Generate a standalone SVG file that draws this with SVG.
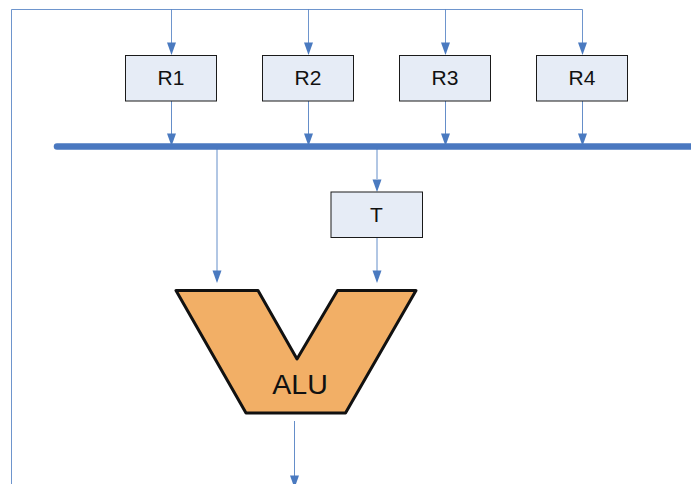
<svg xmlns="http://www.w3.org/2000/svg" width="691" height="484" viewBox="0 0 691 484">
<style>
.c{fill:none;stroke:#4a7ac0;stroke-width:1}
.h{fill:#4a7ac0}
.box{fill:#e6ecf6;stroke:#1a1a1a;stroke-width:1}
text{font-family:"Liberation Sans",Arial,sans-serif;fill:#111;text-anchor:middle}
.l{font-size:21px}
</style>
<defs>
<path id="a" d="M-4.5,-12.500H4.500L0,0Z" class="h"/>
</defs>
<rect width="691" height="484" fill="#fff"/>
<g id="connectors">
<path class="c" d="M11.500,484V9.500H582.500V44M171.500,9.500V44M308.500,9.500V44M445.500,9.500V44" stroke-opacity="0.8"/>
<path class="c" d="M171.500,101V135M308.500,101V135M445.500,101V135M582.500,101V135" stroke-opacity="0.85"/>
<path class="c" d="M217,146V272M377,146V179M377,238V272M294.500,421V476" stroke-opacity="0.85"/>
<path d="M57,146.500H691" fill="none" stroke="#4a78c0" stroke-width="6.500" stroke-linecap="round"/>
<use href="#a" x="171.500" y="55"/><use href="#a" x="308.500" y="55"/><use href="#a" x="445.500" y="55"/><use href="#a" x="582.500" y="55"/>
<use href="#a" x="171.500" y="146"/><use href="#a" x="308.500" y="146"/><use href="#a" x="445.500" y="146"/><use href="#a" x="582.500" y="146"/>
<use href="#a" x="377" y="192"/><use href="#a" x="217" y="283"/><use href="#a" x="377" y="283"/><use href="#a" x="294.500" y="488"/>
</g>
<g id="R1"><rect class="box" x="125.500" y="55.500" width="91" height="45.500"/><text class="l" x="171" y="85">R1</text></g>
<g id="R2"><rect class="box" x="262.500" y="55.500" width="91" height="45.500"/><text class="l" x="308" y="85">R2</text></g>
<g id="R3"><rect class="box" x="399.500" y="55.500" width="91" height="45.500"/><text class="l" x="445" y="85">R3</text></g>
<g id="R4"><rect class="box" x="536.500" y="55.500" width="91" height="45.500"/><text class="l" x="582" y="85">R4</text></g>
<g id="T"><rect class="box" x="331" y="192" width="91.500" height="45.500"/><text class="l" x="376.500" y="222">T</text></g>
<g id="ALU"><path d="M176,290.500H258L297,359L337.500,290.500H416L345.500,413H246Z" fill="#f2af66" stroke="#111" stroke-width="3" stroke-linejoin="round"/><text x="300" y="394" font-size="28.500">ALU</text></g>
</svg>
